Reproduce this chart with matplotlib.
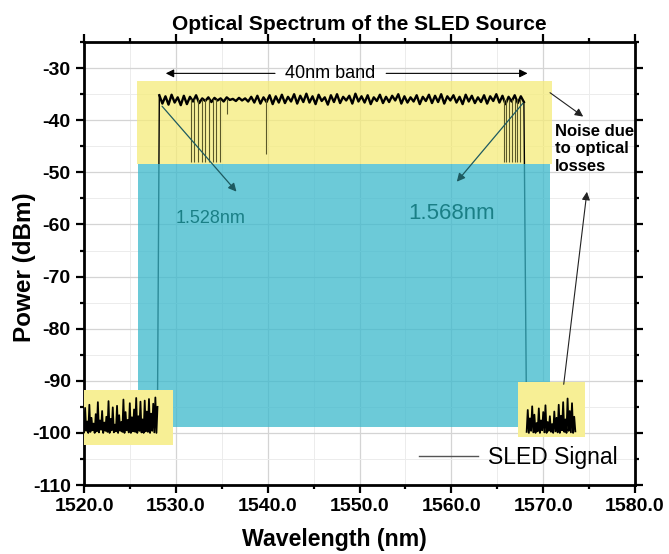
import matplotlib
matplotlib.use("Agg")
import matplotlib.pyplot as plt
import numpy as np
from matplotlib.patches import Rectangle
from matplotlib.ticker import MultipleLocator, FormatStrFormatter

plt.rcParams['font.family'] = ['Liberation Sans', 'DejaVu Sans']

# spontaneous emission floor below the band (dBm)
left_floor_dbm = [
    -99.9, -95.2, -99.6, -97.8, -100, -94.6, -99.8, -97.1, -99.5, -98.2,
    -100, -96.4, -99.7, -94.1, -99.9, -97.6, -99.4, -95.8, -100, -98.0,
    -99.6, -96.9, -99.8, -93.9, -100, -97.3, -99.5, -95.1, -99.9, -98.4,
    -99.7, -94.8, -100, -96.6, -99.6, -97.9, -99.8, -93.6, -100, -96.0,
    -99.5, -97.5, -99.9, -94.3, -100, -97.0, -99.7, -95.5, -99.8, -93.3,
    -100, -96.8, -99.6, -94.0, -99.9, -97.4, -100, -93.8, -99.7, -95.9,
    -99.8, -93.5, -100, -96.3, -99.6, -94.4, -99.9, -93.2, -100, -95.0]

# flat top of the SLED band
band_dbm = [
    -35.2, -36.8, -35.4, -37.0, -35.1, -36.6, -35.6, -37.1, -35.3, -36.9,
    -35.5, -36.4, -35.2, -36.7, -35.8, -36.3, -35.6, -36.5, -35.7, -36.2,
    -35.8, -36.4, -35.6, -36.1, -35.9, -36.3, -35.7, -36.2, -35.8, -36.4,
    -35.5, -36.6, -35.3, -36.8, -35.6, -36.5, -35.2, -36.9, -35.4, -36.6,
    -35.1, -36.7, -35.5, -36.4, -35.0, -36.8, -35.3, -36.5, -34.9, -36.6,
    -35.4, -36.9, -35.1, -36.3, -35.6, -37.0, -35.2, -36.5, -35.0, -36.7,
    -35.5, -36.2, -35.3, -36.8, -34.9, -36.4, -35.4, -36.6, -35.2, -36.9,
    -35.6, -36.3, -35.1, -36.7, -35.5, -36.5, -35.3, -36.2, -35.0, -36.8,
    -35.4, -36.6, -35.6, -36.4, -35.2, -36.9, -35.5, -36.3, -35.1, -36.7,
    -35.3, -36.5, -35.0, -36.8, -35.4, -36.2, -35.2, -36.6, -35.5, -36.9,
    -35.1, -36.4, -35.3, -36.7, -35.6, -36.5, -35.2, -36.8, -35.4, -36.3,
    -35.0, -36.6, -35.3, -36.9, -35.5, -36.4, -35.2, -36.7, -35.4, -36.5]

# floor above the band
right_floor_dbm = [
    -99.8, -95.6, -100, -97.2, -99.6, -94.9, -99.9, -96.5, -100, -98.1,
    -99.7, -95.3, -100, -97.6, -99.5, -96.0, -99.9, -94.7, -100, -97.9,
    -99.6, -96.8, -99.8, -98.3, -100, -95.9, -99.7, -97.1, -99.9, -94.6,
    -100, -96.7, -99.5, -94.1, -99.8, -97.4, -100, -93.4, -99.6, -95.8,
    -99.9, -94.3, -100, -96.9, -99.7]

left_wl = np.linspace(1520.0, 1528.0, len(left_floor_dbm))
band_wl = np.linspace(1528.2, 1567.9, len(band_dbm))
right_wl = np.linspace(1568.2, 1573.5, len(right_floor_dbm))

# narrow dropouts inside the band
dip_wl = [1531.6, 1532.0, 1532.4, 1532.8, 1533.2, 1533.6, 1534.0, 1534.4, 1534.8,
          1535.6, 1539.8,
          1565.7, 1566.0, 1566.3, 1566.6, 1566.9, 1567.2, 1567.5]
dip_dbm = [-48.0, -48.0, -48.0, -48.0, -48.0, -48.0, -48.0, -48.0, -48.0,
           -38.8, -46.5,
           -48.0, -48.0, -48.0, -48.0, -48.0, -48.0, -48.0]

band_start, band_end = 1528.6, 1568.6

fig = plt.figure(figsize=(6.69, 5.54), dpi=100)
ax = fig.add_axes([0.1256, 0.1245, 0.8236, 0.7995])

# shaded regions
ax.add_patch(Rectangle((1525.8, -48.4), 45.2, 16.0, color='#f5ec7a', alpha=0.75, lw=0, zorder=1))
ax.add_patch(Rectangle((1525.9, -98.9), 44.8, 50.5, color='#3bb9cc', alpha=0.75, lw=0, zorder=3))
ax.add_patch(Rectangle((1520.0, -102.3), 9.7, 10.5, color='#f7ef95', lw=0, zorder=4))
ax.add_patch(Rectangle((1567.3, -100.8), 7.3, 10.5, color='#f7ef95', lw=0, zorder=4))

# spectrum: floors, band edges, flat top
ax.plot(left_wl, left_floor_dbm, color='black', lw=1.3, zorder=5, label='SLED Signal')
ax.plot(right_wl, right_floor_dbm, color='black', lw=1.3, zorder=5)
ax.plot([left_wl[-1], band_wl[0]], [left_floor_dbm[-1], band_dbm[0]], color='black', lw=1.0, zorder=2)
ax.plot([band_wl[-1], right_wl[0]], [band_dbm[-1], right_floor_dbm[0]], color='black', lw=1.0, zorder=2)
ax.plot(band_wl, band_dbm, color='black', lw=1.7, zorder=2)
ax.vlines(dip_wl, dip_dbm, -36.0, color='#5a5828', lw=0.8, zorder=2)

ax.set_xlim(1520, 1580)
ax.set_ylim(-110, -25)
ax.xaxis.set_major_locator(MultipleLocator(10))
ax.xaxis.set_minor_locator(MultipleLocator(5))
ax.yaxis.set_major_locator(MultipleLocator(10))
ax.yaxis.set_minor_locator(MultipleLocator(5))
ax.xaxis.set_major_formatter(FormatStrFormatter('%.1f'))
ax.yaxis.set_major_formatter(FormatStrFormatter('%d'))
ax.grid(which='major', color='#d4d4d4', lw=0.9, zorder=0)
ax.grid(which='minor', color='#ececec', lw=0.7, zorder=0)
ax.set_axisbelow(True)
ax.tick_params(which='both', direction='out', top=True, right=True, width=1.6)
ax.tick_params(which='major', length=6, labelsize=14)
ax.tick_params(which='minor', length=3)
for lab in ax.get_xticklabels() + ax.get_yticklabels():
    lab.set_fontweight('bold')
for sp in ax.spines.values():
    sp.set_linewidth(2)

ax.set_xlabel('Wavelength (nm)', fontsize=16.7, fontweight='bold')
ax.set_ylabel('Power (dBm)', fontsize=17.5, fontweight='bold')
ax.xaxis.set_label_coords(0.454, -0.097)
ax.yaxis.set_label_coords(-0.087, 0.492)
ax.set_title('Optical Spectrum of the SLED Source', fontsize=15, fontweight='bold', pad=9)

# band width arrows
ax.text(1546.8, -31.0, '40nm band', fontsize=13, ha='center', va='center', zorder=6)
ax.annotate('', xy=(band_start, -31.0), xytext=(1541.1, -31.0),
            arrowprops=dict(arrowstyle='-|>', color='black', lw=0.8, mutation_scale=12), zorder=6)
ax.annotate('', xy=(band_end, -31.0), xytext=(1552.6, -31.0),
            arrowprops=dict(arrowstyle='-|>', color='black', lw=0.8, mutation_scale=12), zorder=6)

# band edge labels
ax.annotate('', xy=(1536.8, -54.1), xytext=(1528.3, -36.9),
            arrowprops=dict(arrowstyle='-|>', color='#1d5a60', lw=0.9, mutation_scale=12), zorder=6)
ax.text(1533.8, -58.9, '1.528nm', color='#1a7f86', fontsize=13, ha='center', va='center', zorder=6)
ax.annotate('', xy=(1560.4, -52.2), xytext=(1568.0, -36.3),
            arrowprops=dict(arrowstyle='-|>', color='#1d5a60', lw=0.9, mutation_scale=12), zorder=6)
ax.text(1560.0, -57.9, '1.568nm', color='#1a7f86', fontsize=16, ha='center', va='center', zorder=6)

# noise note
ax.text(1571.3, -40.7, 'Noise due\nto optical\nlosses', fontsize=12, fontweight='bold',
        ha='left', va='top', linespacing=1.2, zorder=6)
ax.annotate('', xy=(1574.6, -39.6), xytext=(1570.5, -34.4),
            arrowprops=dict(arrowstyle='-|>', color='#222222', lw=0.8, mutation_scale=12), zorder=6)
ax.annotate('', xy=(1574.8, -53.2), xytext=(1572.2, -91.2),
            arrowprops=dict(arrowstyle='-|>', color='#222222', lw=0.8, mutation_scale=12), zorder=6)

leg = ax.legend(loc='lower right', bbox_to_anchor=(1.005, -0.01), frameon=False,
                fontsize=16.5, handlelength=2.6, handletextpad=0.4)
for h in leg.get_lines():
    h.set_color('#555555')
    h.set_linewidth(1.0)

fig.savefig('out.png', dpi=100)
